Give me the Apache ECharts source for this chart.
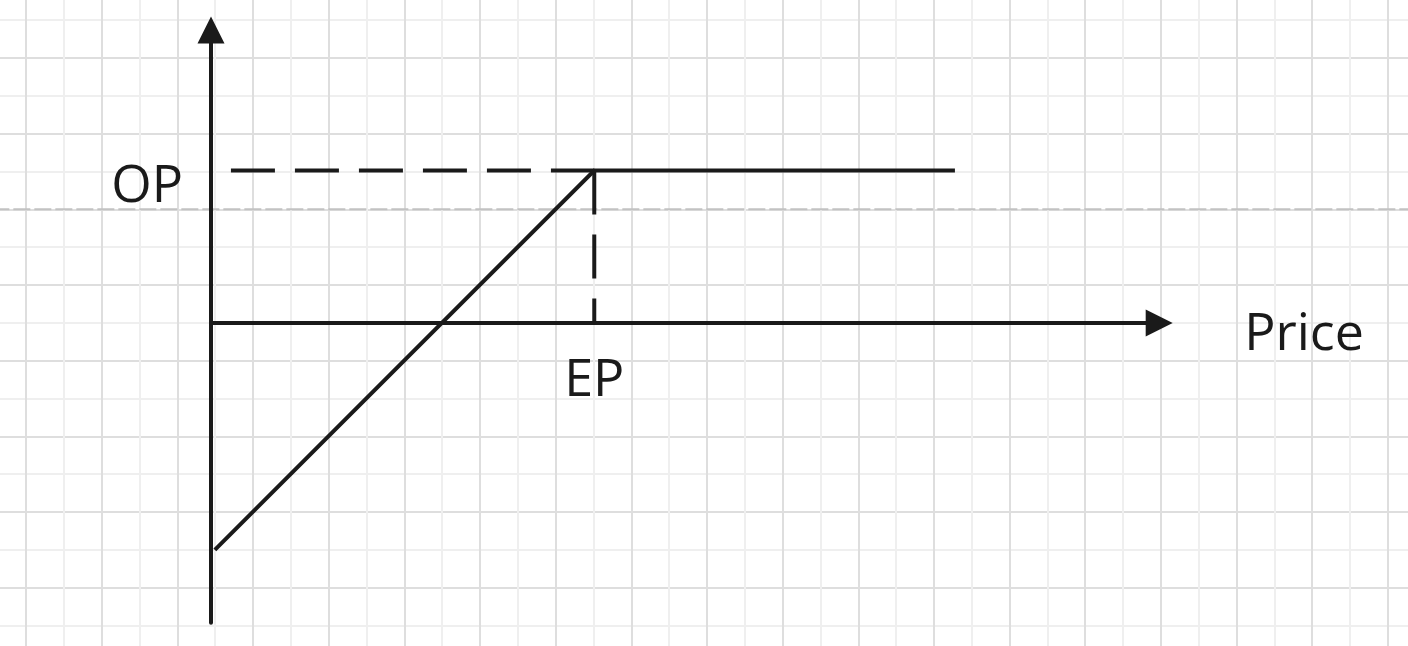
<!DOCTYPE html>
<html>
<head>
<meta charset="utf-8">
<script src="https://cdn.jsdelivr.net/npm/echarts@6/dist/echarts.min.js"></script>
<style>
html,body{margin:0;padding:0;background:#fff;}
#chart{width:1408px;height:646px;}
</style>
</head>
<body>
<div id="chart"></div>
<script>
// ---- data ----
const xAxisName = 'Price';
const opLabel = 'OP';
const epLabel = 'EP';
const OP = 4;            // option premium level
const EP = 10;           // exercise price
const payoffX = [0.1, EP, 19.41];
const payoffY = [-5.95, OP, OP];
const opGuideX = [0.52, EP];
const opGuideY = [OP, OP];
const epGuideX = [EP, EP];
const epGuideY = [OP, 0];
const pageBreakY = 12;   // background paper grid units
const paperCols = 40;
const paperRows = 18;
const xMin = 0, xMax = 24.74;
const yMin = -7.861, yMax = 7.685;

const zip = (xs, ys) => xs.map((x, i) => [x, ys[i]]);
const ink = '#1a1a1a';
const fontFamily = '"Open Sans", "Noto Sans", sans-serif';
const cell = 37.83;
const plotH = 592.7;
// distance from the bottom of the plot to the y = 0 line, via the axis scale
const zeroFromBottom = plotH * (0 - yMin) / (yMax - yMin);

const chart = echarts.init(document.getElementById('chart'), null, {renderer: 'canvas'});

function paperAxis(interval, color, extra) {
  return Object.assign({
    type: 'value', gridIndex: 0, min: 0, interval: interval,
    axisLine: {show: false}, axisTick: {show: false}, axisLabel: {show: false},
    splitLine: {show: true, lineStyle: {color: color, width: 2}},
    z: 0
  }, extra);
}

chart.setOption({
  animation: false,
  backgroundColor: '#ffffff',
  grid: [
    {left: 26 - 2 * cell, top: 663.3 - paperRows * cell, width: paperCols * cell, height: paperRows * cell,
      outerBoundsMode: 'none', containLabel: false},
    {left: 211, top: 30, width: 948.2, height: plotH, outerBoundsMode: 'none', containLabel: false}
  ],
  xAxis: [
    paperAxis(1, '#efefef', {max: paperCols}),
    paperAxis(2, '#dedede', {max: paperCols}),
    {
      type: 'value', gridIndex: 1, min: xMin, max: xMax, z: 5,
      position: 'bottom', offset: -zeroFromBottom,
      axisLine: {show: true, onZero: false, symbol: ['none', 'triangle'], symbolSize: [27, 27],
        lineStyle: {color: ink, width: 4}},
      axisTick: {show: false},
      splitLine: {show: false},
      axisLabel: {show: true, customValues: [EP], formatter: () => epLabel, margin: 32,
        color: ink, fontSize: 52, fontFamily: fontFamily},
      name: xAxisName, nameLocation: 'end', nameGap: 85,
      nameTextStyle: {color: ink, fontSize: 52, fontFamily: fontFamily,
        verticalAlign: 'top', lineHeight: 24}
    }
  ],
  yAxis: [
    paperAxis(1, '#efefef', {max: paperRows}),
    paperAxis(2, '#dedede', {max: paperRows}),
    {
      type: 'value', gridIndex: 1, min: yMin, max: yMax, z: 5,
      axisLine: {show: true, onZero: false, symbol: ['none', 'triangle'], symbolSize: [27, 27],
        lineStyle: {color: ink, width: 4}},
      axisTick: {show: false},
      splitLine: {show: false},
      axisLabel: {show: true, customValues: [OP], formatter: () => opLabel, margin: 28,
        color: ink, fontSize: 52, fontFamily: fontFamily, verticalAlign: 'top', lineHeight: 34}
    }
  ],
  series: [
    {
      type: 'line', xAxisIndex: 0, yAxisIndex: 0, z: 1, silent: true,
      data: [[0, pageBreakY], [paperCols, pageBreakY]],
      symbol: 'none',
      lineStyle: {color: '#c2c2c2', width: 2, type: [17, 4]}
    },
    {
      type: 'line', xAxisIndex: 2, yAxisIndex: 2, z: 6, silent: true,
      data: zip(opGuideX, opGuideY), symbol: 'none',
      lineStyle: {color: ink, width: 4, type: [44, 20]}
    },
    {
      type: 'line', xAxisIndex: 2, yAxisIndex: 2, z: 6, silent: true,
      data: zip(epGuideX, epGuideY), symbol: 'none',
      lineStyle: {color: ink, width: 4, type: [44, 20]}
    },
    {
      type: 'line', xAxisIndex: 2, yAxisIndex: 2, z: 7, silent: true,
      data: zip(payoffX, payoffY), symbol: 'none',
      lineStyle: {color: ink, width: 4, cap: 'butt', join: 'miter'}
    }
  ]
});
</script>
</body>
</html>
